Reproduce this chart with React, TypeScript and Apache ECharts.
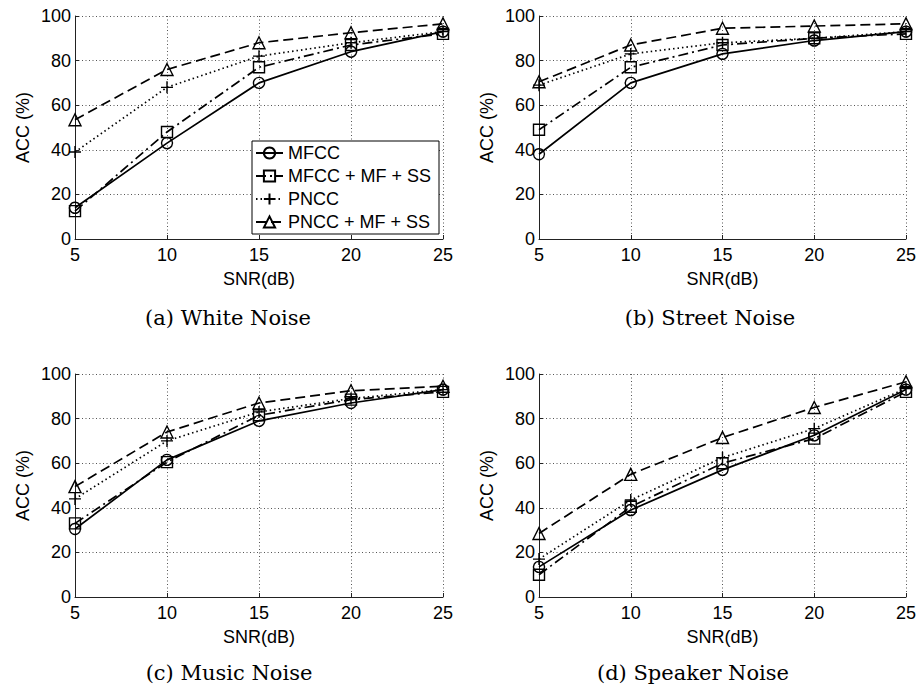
import React, { useEffect, useRef } from "react";
import * as echarts from "echarts";

const snr = [5, 10, 15, 20, 25];
const seriesNames = ["MFCC", "MFCC + MF + SS", "PNCC", "PNCC + MF + SS"];

// White noise
const mfccWhite = [14, 43, 70, 84, 93];
const mfccMfWhite = [12.5, 48, 77, 87, 92];
const pnccWhite = [39, 68, 82, 88, 93];
const pnccMfWhite = [53.5, 76, 88, 92.5, 96.5];
// Street noise
const mfccStreet = [38, 70, 83, 89, 93];
const mfccMfStreet = [49, 77, 87, 90, 92];
const pnccStreet = [69, 83, 88, 90, 93];
const pnccMfStreet = [70.5, 87, 94.5, 95.5, 96.5];
// Music noise
const mfccMusic = [30.5, 61.5, 79, 87, 93];
const mfccMfMusic = [33, 60.5, 81.5, 88.5, 92];
const pnccMusic = [44, 70, 83, 89, 93];
const pnccMfMusic = [49.5, 74, 87, 92.5, 94.5];
// Speaker noise
const mfccSpeaker = [13.5, 39, 57, 72.5, 93];
const mfccMfSpeaker = [10, 40.5, 60, 71, 92];
const pnccSpeaker = [17, 43.5, 62.5, 75.5, 93.5];
const pnccMfSpeaker = [28.5, 55, 71.5, 85, 96.5];

const captions = ["(a) White Noise", "(b) Street Noise", "(c) Music Noise", "(d) Speaker Noise"];
const yTicks = [0, 20, 40, 60, 80, 100];

const panels = [
  [mfccWhite, mfccMfWhite, pnccWhite, pnccMfWhite],
  [mfccStreet, mfccMfStreet, pnccStreet, pnccMfStreet],
  [mfccMusic, mfccMfMusic, pnccMusic, pnccMfMusic],
  [mfccSpeaker, mfccMfSpeaker, pnccSpeaker, pnccMfSpeaker],
];

const gridRects = [
  { left: 75, top: 16, width: 368, height: 223 },
  { left: 539, top: 16, width: 367, height: 223 },
  { left: 75, top: 374, width: 368, height: 223 },
  { left: 539, top: 374, width: 367, height: 223 },
];
const captionPos = [
  { x: 228, y: 318 },
  { x: 710, y: 318 },
  { x: 229, y: 673 },
  { x: 693, y: 673 },
];

const SANS = "'Liberation Sans', Arial, Helvetica, sans-serif";
const SERIF = "'DejaVu Serif', serif";

const styles = [
  { symbol: "path://M50,0 A50,50 0 1 1 49.99,0 Z", size: 11, dash: "solid" as any },
  { symbol: "path://M0,0 L100,0 L100,100 L0,100 Z", size: 11, dash: [10, 4, 2, 4] },
  { symbol: "path://M50,0 L50,100 M0,50 L100,50", size: 12, dash: [1.5, 3] },
  { symbol: "path://M50,0 L100,86 L0,86 Z", size: 12, dash: [10, 5] },
];

export default function App() {
  const ref = useRef<HTMLDivElement>(null);
  useEffect(() => {
    if (!ref.current) return;
    const chart = echarts.init(ref.current, null, { renderer: "svg" });
    const grid = gridRects.map((g) => ({ ...g, containLabel: false }));
    const xAxis = gridRects.map((_, i) => ({
      type: "value",
      gridIndex: i,
      min: 5,
      max: 25,
      interval: 5,
      name: "SNR(dB)",
      nameLocation: "middle",
      nameGap: 31,
      nameTextStyle: { fontFamily: SANS, fontSize: 18, color: "#000" },
      axisLine: { show: true, lineStyle: { color: "#222", width: 1 } },
      axisTick: { show: true, inside: true, length: 4, lineStyle: { color: "#222" } },
      axisLabel: { fontFamily: SANS, fontSize: 18, color: "#000", margin: 7 },
      splitLine: { show: true, lineStyle: { color: "#555", width: 1, type: [1, 2.5] } },
    }));
    const yAxis = gridRects.map((_, i) => ({
      type: "value",
      gridIndex: i,
      min: 0,
      max: 100,
      interval: 20,
      name: "ACC (%)",
      nameLocation: "middle",
      nameGap: 43,
      nameTextStyle: { fontFamily: SANS, fontSize: 18, color: "#000" },
      axisLine: { show: true, lineStyle: { color: "#222", width: 1 } },
      axisTick: { show: true, inside: true, length: 4, lineStyle: { color: "#222" } },
      axisLabel: {
        fontFamily: SANS,
        fontSize: 18,
        color: "#000",
        margin: 4,
        formatter: (v: number) => (yTicks.includes(v) ? String(v) : ""),
      },
      splitLine: { show: true, lineStyle: { color: "#555", width: 1, type: [1, 2.5] } },
    }));
    const series: any[] = [];
    panels.forEach((panel, gi) => {
      panel.forEach((vals, si) => {
        const st = styles[si];
        series.push({
          type: "line",
          name: seriesNames[si],
          xAxisIndex: gi,
          yAxisIndex: gi,
          data: snr.map((x, k) => [x, vals[k]]),
          symbol: st.symbol,
          symbolSize: st.size,
          showSymbol: true,
          lineStyle: { color: "#000", width: 1.7, type: st.dash },
          itemStyle: { color: "rgba(0,0,0,0)", borderColor: "#000", borderWidth: 1.4 },
          z: 2 + si,
        });
      });
    });
    chart.setOption({
      animation: false,
      backgroundColor: "#fff",
      grid,
      xAxis,
      yAxis,
      legend: {
        data: seriesNames,
        orient: "vertical",
        left: 252,
        top: 141,
        backgroundColor: "#fff",
        borderColor: "#000",
        borderWidth: 1,
        borderRadius: 0,
        padding: [3, 8, 3, 3],
        itemGap: 5,
        itemWidth: 27,
        itemHeight: 14,
        selectedMode: false,
        textStyle: { fontFamily: SANS, fontSize: 18, color: "#000" },
      },
      graphic: captions.map((c, i) => ({
        type: "text",
        x: captionPos[i].x,
        y: captionPos[i].y,
        style: {
          text: c,
          fontFamily: SERIF,
          fontSize: 21,
          fill: "#000",
          textAlign: "center",
          textVerticalAlign: "middle",
        },
      })),
      series,
    });
    return () => chart.dispose();
  }, []);
  return (
    <div
      ref={ref}
      style={{ position: "fixed", left: 0, top: 0, width: 924, height: 690, background: "#fff" }}
    />
  );
}
